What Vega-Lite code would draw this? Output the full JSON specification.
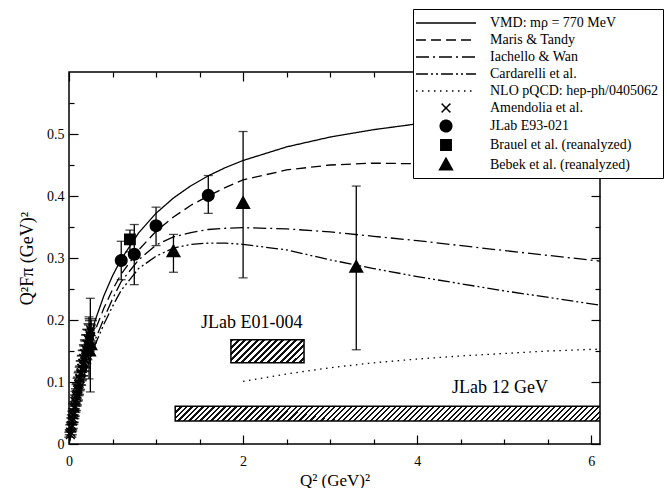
{
  "$schema": "https://vega.github.io/schema/vega-lite/v6.json",
  "width": 531,
  "height": 372,
  "autosize": {"type": "none"},
  "padding": {"left": 69, "top": 72, "right": 67, "bottom": 44},
  "background": "white",
  "config": {
    "view": {"stroke": "black", "strokeWidth": 1.5},
    "font": "Liberation Serif",
    "axis": {"domain": false, "grid": false, "labelFont": "Liberation Serif", "labelFontSize": 14, "labelColor": "black", "tickColor": "black", "tickWidth": 1.2, "titleFont": "Liberation Serif", "titleFontSize": 17, "titleFontWeight": "normal", "titleColor": "black", "labelOverlap": false, "labelFlush": false}
  },
  "resolve": {"axis": {"x": "independent", "y": "independent"}},
  "datasets": {
    "bars": [
      {"name": "JLab E01-004", "x0": 1.86, "x1": 2.70, "y0": 0.131, "y1": 0.168},
      {"name": "JLab 12 GeV", "x0": 1.22, "x1": 6.1, "y0": 0.037, "y1": 0.061}
    ],
    "labels": [
      {"t": "JLab E01-004", "q": 2.10, "f": 0.195},
      {"t": "JLab 12 GeV", "q": 4.95, "f": 0.090}
    ],
    "curves": [
      {"s": "VMD: mρ = 770 MeV", "q": 0, "f": 0},
      {"s": "VMD: mρ = 770 MeV", "q": 0.02, "f": 0.0193},
      {"s": "VMD: mρ = 770 MeV", "q": 0.05, "f": 0.0461},
      {"s": "VMD: mρ = 770 MeV", "q": 0.1, "f": 0.0856},
      {"s": "VMD: mρ = 770 MeV", "q": 0.15, "f": 0.1198},
      {"s": "VMD: mρ = 770 MeV", "q": 0.2, "f": 0.1496},
      {"s": "VMD: mρ = 770 MeV", "q": 0.3, "f": 0.1992},
      {"s": "VMD: mρ = 770 MeV", "q": 0.4, "f": 0.2389},
      {"s": "VMD: mρ = 770 MeV", "q": 0.5, "f": 0.2713},
      {"s": "VMD: mρ = 770 MeV", "q": 0.6, "f": 0.2982},
      {"s": "VMD: mρ = 770 MeV", "q": 0.8, "f": 0.3405},
      {"s": "VMD: mρ = 770 MeV", "q": 1.0, "f": 0.3722},
      {"s": "VMD: mρ = 770 MeV", "q": 1.2, "f": 0.3968},
      {"s": "VMD: mρ = 770 MeV", "q": 1.4, "f": 0.4165},
      {"s": "VMD: mρ = 770 MeV", "q": 1.6, "f": 0.4326},
      {"s": "VMD: mρ = 770 MeV", "q": 1.8, "f": 0.4460},
      {"s": "VMD: mρ = 770 MeV", "q": 2.0, "f": 0.4573},
      {"s": "VMD: mρ = 770 MeV", "q": 2.5, "f": 0.4792},
      {"s": "VMD: mρ = 770 MeV", "q": 3.0, "f": 0.4951},
      {"s": "VMD: mρ = 770 MeV", "q": 3.5, "f": 0.5070},
      {"s": "VMD: mρ = 770 MeV", "q": 4.0, "f": 0.5164},
      {"s": "VMD: mρ = 770 MeV", "q": 5.0, "f": 0.5300},
      {"s": "VMD: mρ = 770 MeV", "q": 6.1, "f": 0.5404},
      {"s": "Maris & Tandy", "q": 0, "f": 0},
      {"s": "Maris & Tandy", "q": 0.05, "f": 0.043},
      {"s": "Maris & Tandy", "q": 0.1, "f": 0.080},
      {"s": "Maris & Tandy", "q": 0.2, "f": 0.138},
      {"s": "Maris & Tandy", "q": 0.3, "f": 0.183},
      {"s": "Maris & Tandy", "q": 0.4, "f": 0.219},
      {"s": "Maris & Tandy", "q": 0.5, "f": 0.249},
      {"s": "Maris & Tandy", "q": 0.6, "f": 0.274},
      {"s": "Maris & Tandy", "q": 0.8, "f": 0.313},
      {"s": "Maris & Tandy", "q": 1.0, "f": 0.343},
      {"s": "Maris & Tandy", "q": 1.2, "f": 0.366},
      {"s": "Maris & Tandy", "q": 1.4, "f": 0.385},
      {"s": "Maris & Tandy", "q": 1.6, "f": 0.400},
      {"s": "Maris & Tandy", "q": 1.8, "f": 0.414},
      {"s": "Maris & Tandy", "q": 2.0, "f": 0.426},
      {"s": "Maris & Tandy", "q": 2.5, "f": 0.442},
      {"s": "Maris & Tandy", "q": 3.0, "f": 0.450},
      {"s": "Maris & Tandy", "q": 3.5, "f": 0.453},
      {"s": "Maris & Tandy", "q": 4.0, "f": 0.452},
      {"s": "Maris & Tandy", "q": 5.0, "f": 0.447},
      {"s": "Maris & Tandy", "q": 6.1, "f": 0.439},
      {"s": "Iachello & Wan", "q": 0, "f": 0},
      {"s": "Iachello & Wan", "q": 0.05, "f": 0.040},
      {"s": "Iachello & Wan", "q": 0.1, "f": 0.074},
      {"s": "Iachello & Wan", "q": 0.2, "f": 0.127},
      {"s": "Iachello & Wan", "q": 0.3, "f": 0.168},
      {"s": "Iachello & Wan", "q": 0.4, "f": 0.202},
      {"s": "Iachello & Wan", "q": 0.5, "f": 0.234},
      {"s": "Iachello & Wan", "q": 0.6, "f": 0.262},
      {"s": "Iachello & Wan", "q": 0.8, "f": 0.297},
      {"s": "Iachello & Wan", "q": 1.0, "f": 0.321},
      {"s": "Iachello & Wan", "q": 1.2, "f": 0.334},
      {"s": "Iachello & Wan", "q": 1.4, "f": 0.341},
      {"s": "Iachello & Wan", "q": 1.6, "f": 0.346},
      {"s": "Iachello & Wan", "q": 1.8, "f": 0.348},
      {"s": "Iachello & Wan", "q": 2.0, "f": 0.349},
      {"s": "Iachello & Wan", "q": 2.5, "f": 0.347},
      {"s": "Iachello & Wan", "q": 3.0, "f": 0.342},
      {"s": "Iachello & Wan", "q": 3.5, "f": 0.335},
      {"s": "Iachello & Wan", "q": 4.0, "f": 0.328},
      {"s": "Iachello & Wan", "q": 5.0, "f": 0.312},
      {"s": "Iachello & Wan", "q": 6.1, "f": 0.295},
      {"s": "Cardarelli et al.", "q": 0, "f": 0},
      {"s": "Cardarelli et al.", "q": 0.05, "f": 0.038},
      {"s": "Cardarelli et al.", "q": 0.1, "f": 0.070},
      {"s": "Cardarelli et al.", "q": 0.2, "f": 0.120},
      {"s": "Cardarelli et al.", "q": 0.3, "f": 0.160},
      {"s": "Cardarelli et al.", "q": 0.4, "f": 0.193},
      {"s": "Cardarelli et al.", "q": 0.5, "f": 0.222},
      {"s": "Cardarelli et al.", "q": 0.6, "f": 0.248},
      {"s": "Cardarelli et al.", "q": 0.8, "f": 0.283},
      {"s": "Cardarelli et al.", "q": 1.0, "f": 0.303},
      {"s": "Cardarelli et al.", "q": 1.2, "f": 0.316},
      {"s": "Cardarelli et al.", "q": 1.4, "f": 0.322},
      {"s": "Cardarelli et al.", "q": 1.6, "f": 0.324},
      {"s": "Cardarelli et al.", "q": 1.8, "f": 0.324},
      {"s": "Cardarelli et al.", "q": 2.0, "f": 0.322},
      {"s": "Cardarelli et al.", "q": 2.5, "f": 0.313},
      {"s": "Cardarelli et al.", "q": 3.0, "f": 0.297},
      {"s": "Cardarelli et al.", "q": 3.5, "f": 0.283},
      {"s": "Cardarelli et al.", "q": 4.0, "f": 0.270},
      {"s": "Cardarelli et al.", "q": 5.0, "f": 0.247},
      {"s": "Cardarelli et al.", "q": 6.1, "f": 0.224},
      {"s": "NLO pQCD: hep-ph/0405062", "q": 2.0, "f": 0.101},
      {"s": "NLO pQCD: hep-ph/0405062", "q": 2.5, "f": 0.113},
      {"s": "NLO pQCD: hep-ph/0405062", "q": 3.0, "f": 0.123},
      {"s": "NLO pQCD: hep-ph/0405062", "q": 3.5, "f": 0.131},
      {"s": "NLO pQCD: hep-ph/0405062", "q": 4.0, "f": 0.137},
      {"s": "NLO pQCD: hep-ph/0405062", "q": 4.5, "f": 0.142},
      {"s": "NLO pQCD: hep-ph/0405062", "q": 5.0, "f": 0.146},
      {"s": "NLO pQCD: hep-ph/0405062", "q": 5.5, "f": 0.150},
      {"s": "NLO pQCD: hep-ph/0405062", "q": 6.1, "f": 0.153}
    ],
    "points": [
      {"s": "Amendolia et al.", "q": 0.015, "f": 0.015, "lo": 0.011, "hi": 0.019},
      {"s": "Amendolia et al.", "q": 0.020, "f": 0.019, "lo": 0.015, "hi": 0.023},
      {"s": "Amendolia et al.", "q": 0.026, "f": 0.026, "lo": 0.021, "hi": 0.031},
      {"s": "Amendolia et al.", "q": 0.032, "f": 0.030, "lo": 0.025, "hi": 0.035},
      {"s": "Amendolia et al.", "q": 0.038, "f": 0.037, "lo": 0.032, "hi": 0.042},
      {"s": "Amendolia et al.", "q": 0.044, "f": 0.041, "lo": 0.035, "hi": 0.047},
      {"s": "Amendolia et al.", "q": 0.050, "f": 0.047, "lo": 0.041, "hi": 0.053},
      {"s": "Amendolia et al.", "q": 0.056, "f": 0.051, "lo": 0.045, "hi": 0.057},
      {"s": "Amendolia et al.", "q": 0.062, "f": 0.058, "lo": 0.051, "hi": 0.065},
      {"s": "Amendolia et al.", "q": 0.068, "f": 0.061, "lo": 0.054, "hi": 0.068},
      {"s": "Amendolia et al.", "q": 0.074, "f": 0.068, "lo": 0.061, "hi": 0.075},
      {"s": "Amendolia et al.", "q": 0.080, "f": 0.071, "lo": 0.063, "hi": 0.079},
      {"s": "Amendolia et al.", "q": 0.086, "f": 0.077, "lo": 0.069, "hi": 0.085},
      {"s": "Amendolia et al.", "q": 0.092, "f": 0.080, "lo": 0.071, "hi": 0.089},
      {"s": "Amendolia et al.", "q": 0.098, "f": 0.087, "lo": 0.078, "hi": 0.096},
      {"s": "Amendolia et al.", "q": 0.104, "f": 0.089, "lo": 0.080, "hi": 0.098},
      {"s": "Amendolia et al.", "q": 0.110, "f": 0.096, "lo": 0.086, "hi": 0.106},
      {"s": "Amendolia et al.", "q": 0.116, "f": 0.098, "lo": 0.088, "hi": 0.108},
      {"s": "Amendolia et al.", "q": 0.122, "f": 0.105, "lo": 0.095, "hi": 0.115},
      {"s": "Amendolia et al.", "q": 0.128, "f": 0.106, "lo": 0.095, "hi": 0.117},
      {"s": "Amendolia et al.", "q": 0.134, "f": 0.113, "lo": 0.102, "hi": 0.124},
      {"s": "Amendolia et al.", "q": 0.140, "f": 0.115, "lo": 0.104, "hi": 0.126},
      {"s": "Amendolia et al.", "q": 0.146, "f": 0.122, "lo": 0.110, "hi": 0.134},
      {"s": "Amendolia et al.", "q": 0.152, "f": 0.122, "lo": 0.110, "hi": 0.134},
      {"s": "Amendolia et al.", "q": 0.158, "f": 0.130, "lo": 0.118, "hi": 0.142},
      {"s": "Amendolia et al.", "q": 0.164, "f": 0.130, "lo": 0.117, "hi": 0.143},
      {"s": "Amendolia et al.", "q": 0.170, "f": 0.138, "lo": 0.125, "hi": 0.151},
      {"s": "Amendolia et al.", "q": 0.176, "f": 0.137, "lo": 0.123, "hi": 0.151},
      {"s": "Amendolia et al.", "q": 0.182, "f": 0.146, "lo": 0.132, "hi": 0.160},
      {"s": "Amendolia et al.", "q": 0.188, "f": 0.144, "lo": 0.130, "hi": 0.158},
      {"s": "Amendolia et al.", "q": 0.194, "f": 0.153, "lo": 0.138, "hi": 0.168},
      {"s": "Amendolia et al.", "q": 0.200, "f": 0.151, "lo": 0.136, "hi": 0.166},
      {"s": "Amendolia et al.", "q": 0.207, "f": 0.161, "lo": 0.146, "hi": 0.176},
      {"s": "Amendolia et al.", "q": 0.214, "f": 0.160, "lo": 0.144, "hi": 0.176},
      {"s": "Amendolia et al.", "q": 0.221, "f": 0.169, "lo": 0.153, "hi": 0.185},
      {"s": "Amendolia et al.", "q": 0.228, "f": 0.167, "lo": 0.150, "hi": 0.184},
      {"s": "Amendolia et al.", "q": 0.235, "f": 0.177, "lo": 0.160, "hi": 0.194},
      {"s": "Amendolia et al.", "q": 0.242, "f": 0.174, "lo": 0.156, "hi": 0.192},
      {"s": "Amendolia et al.", "q": 0.249, "f": 0.184, "lo": 0.166, "hi": 0.202},
      {"s": "Amendolia et al.", "q": 0.253, "f": 0.181, "lo": 0.163, "hi": 0.199},
      {"s": "JLab E93-021", "q": 0.60, "f": 0.296, "lo": 0.265, "hi": 0.327},
      {"s": "JLab E93-021", "q": 0.75, "f": 0.306, "lo": 0.257, "hi": 0.354},
      {"s": "JLab E93-021", "q": 1.00, "f": 0.352, "lo": 0.320, "hi": 0.382},
      {"s": "JLab E93-021", "q": 1.60, "f": 0.401, "lo": 0.372, "hi": 0.433},
      {"s": "Brauel et al. (reanalyzed)", "q": 0.70, "f": 0.330, "lo": 0.310, "hi": 0.345},
      {"s": "Bebek et al. (reanalyzed)", "q": 0.230, "f": 0.150, "lo": 0.105, "hi": 0.205},
      {"s": "Bebek et al. (reanalyzed)", "q": 0.245, "f": 0.160, "lo": 0.084, "hi": 0.235},
      {"s": "Bebek et al. (reanalyzed)", "q": 1.20, "f": 0.310, "lo": 0.277, "hi": 0.338},
      {"s": "Bebek et al. (reanalyzed)", "q": 2.00, "f": 0.388, "lo": 0.268, "hi": 0.504},
      {"s": "Bebek et al. (reanalyzed)", "q": 3.30, "f": 0.285, "lo": 0.152, "hi": 0.416}
    ]
  },
  "layer": [
    {
      "data": {"name": "bars"},
      "transform": [{"filter": "datum.name === 'JLab E01-004'"}],
      "mark": {"type": "rect", "stroke": "black", "strokeWidth": 1.5, "clip": true,
        "fill": {"gradient": "linear", "x1": 0, "y1": 0, "x2": 1.196, "y2": 0.376, "stops": [
          {"offset": 0, "color": "#111"}, {"offset": 0.03, "color": "#111"}, {"offset": 0.03, "color": "#fff"}, {"offset": 0.0667, "color": "#fff"},
          {"offset": 0.0667, "color": "#111"}, {"offset": 0.0967, "color": "#111"}, {"offset": 0.0967, "color": "#fff"}, {"offset": 0.1333, "color": "#fff"},
          {"offset": 0.1333, "color": "#111"}, {"offset": 0.1633, "color": "#111"}, {"offset": 0.1633, "color": "#fff"}, {"offset": 0.2, "color": "#fff"},
          {"offset": 0.2, "color": "#111"}, {"offset": 0.23, "color": "#111"}, {"offset": 0.23, "color": "#fff"}, {"offset": 0.2667, "color": "#fff"},
          {"offset": 0.2667, "color": "#111"}, {"offset": 0.2967, "color": "#111"}, {"offset": 0.2967, "color": "#fff"}, {"offset": 0.3333, "color": "#fff"},
          {"offset": 0.3333, "color": "#111"}, {"offset": 0.3633, "color": "#111"}, {"offset": 0.3633, "color": "#fff"}, {"offset": 0.4, "color": "#fff"},
          {"offset": 0.4, "color": "#111"}, {"offset": 0.43, "color": "#111"}, {"offset": 0.43, "color": "#fff"}, {"offset": 0.4667, "color": "#fff"},
          {"offset": 0.4667, "color": "#111"}, {"offset": 0.4967, "color": "#111"}, {"offset": 0.4967, "color": "#fff"}, {"offset": 0.5333, "color": "#fff"},
          {"offset": 0.5333, "color": "#111"}, {"offset": 0.5633, "color": "#111"}, {"offset": 0.5633, "color": "#fff"}, {"offset": 0.6, "color": "#fff"},
          {"offset": 0.6, "color": "#111"}, {"offset": 0.63, "color": "#111"}, {"offset": 0.63, "color": "#fff"}, {"offset": 0.6667, "color": "#fff"},
          {"offset": 0.6667, "color": "#111"}, {"offset": 0.6967, "color": "#111"}, {"offset": 0.6967, "color": "#fff"}, {"offset": 0.7333, "color": "#fff"},
          {"offset": 0.7333, "color": "#111"}, {"offset": 0.7633, "color": "#111"}, {"offset": 0.7633, "color": "#fff"}, {"offset": 0.8, "color": "#fff"},
          {"offset": 0.8, "color": "#111"}, {"offset": 0.83, "color": "#111"}, {"offset": 0.83, "color": "#fff"}, {"offset": 0.8667, "color": "#fff"},
          {"offset": 0.8667, "color": "#111"}, {"offset": 0.8967, "color": "#111"}, {"offset": 0.8967, "color": "#fff"}, {"offset": 0.9333, "color": "#fff"},
          {"offset": 0.9333, "color": "#111"}, {"offset": 0.9633, "color": "#111"}, {"offset": 0.9633, "color": "#fff"}, {"offset": 1, "color": "#fff"}
        ]}},
      "encoding": {
        "x": {"field": "x0", "type": "quantitative", "scale": {"domain": [0, 6.1], "nice": false, "zero": false},
          "axis": {"orient": "bottom", "values": [0, 2, 4, 6], "labelExpr": "format(datum.value, 'd')",
            "tickSize": -9, "labelPadding": 19, "title": "Q² (GeV)²", "titlePadding": 4}},
        "x2": {"field": "x1"},
        "y": {"field": "y0", "type": "quantitative", "scale": {"domain": [0, 0.6], "nice": false, "zero": false},
          "axis": {"orient": "left", "values": [0, 0.1, 0.2, 0.3, 0.4, 0.5],
            "labelExpr": "datum.value === 0 ? '0' : format(datum.value, '.1f')",
            "tickSize": -9, "labelPadding": 14, "title": "Q²Fπ (GeV)²", "titleFontSize": 18, "titlePadding": 10}},
        "y2": {"field": "y1"}
      }
    },
    {
      "data": {"name": "bars"},
      "transform": [{"filter": "datum.name === 'JLab 12 GeV'"}],
      "mark": {"type": "rect", "stroke": "black", "strokeWidth": 1.5, "clip": true,
        "fill": {"gradient": "linear", "x1": 0, "y1": 0, "x2": 1.0336, "y2": 0.036, "stops": [
          {"offset": 0, "color": "#111"}, {"offset": 0.005, "color": "#111"}, {"offset": 0.005, "color": "#fff"}, {"offset": 0.0125, "color": "#fff"},
          {"offset": 0.0125, "color": "#111"}, {"offset": 0.0175, "color": "#111"}, {"offset": 0.0175, "color": "#fff"}, {"offset": 0.025, "color": "#fff"},
          {"offset": 0.025, "color": "#111"}, {"offset": 0.03, "color": "#111"}, {"offset": 0.03, "color": "#fff"}, {"offset": 0.0375, "color": "#fff"},
          {"offset": 0.0375, "color": "#111"}, {"offset": 0.0425, "color": "#111"}, {"offset": 0.0425, "color": "#fff"}, {"offset": 0.05, "color": "#fff"},
          {"offset": 0.05, "color": "#111"}, {"offset": 0.055, "color": "#111"}, {"offset": 0.055, "color": "#fff"}, {"offset": 0.0625, "color": "#fff"},
          {"offset": 0.0625, "color": "#111"}, {"offset": 0.0675, "color": "#111"}, {"offset": 0.0675, "color": "#fff"}, {"offset": 0.075, "color": "#fff"},
          {"offset": 0.075, "color": "#111"}, {"offset": 0.08, "color": "#111"}, {"offset": 0.08, "color": "#fff"}, {"offset": 0.0875, "color": "#fff"},
          {"offset": 0.0875, "color": "#111"}, {"offset": 0.0925, "color": "#111"}, {"offset": 0.0925, "color": "#fff"}, {"offset": 0.1, "color": "#fff"},
          {"offset": 0.1, "color": "#111"}, {"offset": 0.105, "color": "#111"}, {"offset": 0.105, "color": "#fff"}, {"offset": 0.1125, "color": "#fff"},
          {"offset": 0.1125, "color": "#111"}, {"offset": 0.1175, "color": "#111"}, {"offset": 0.1175, "color": "#fff"}, {"offset": 0.125, "color": "#fff"},
          {"offset": 0.125, "color": "#111"}, {"offset": 0.13, "color": "#111"}, {"offset": 0.13, "color": "#fff"}, {"offset": 0.1375, "color": "#fff"},
          {"offset": 0.1375, "color": "#111"}, {"offset": 0.1425, "color": "#111"}, {"offset": 0.1425, "color": "#fff"}, {"offset": 0.15, "color": "#fff"},
          {"offset": 0.15, "color": "#111"}, {"offset": 0.155, "color": "#111"}, {"offset": 0.155, "color": "#fff"}, {"offset": 0.1625, "color": "#fff"},
          {"offset": 0.1625, "color": "#111"}, {"offset": 0.1675, "color": "#111"}, {"offset": 0.1675, "color": "#fff"}, {"offset": 0.175, "color": "#fff"},
          {"offset": 0.175, "color": "#111"}, {"offset": 0.18, "color": "#111"}, {"offset": 0.18, "color": "#fff"}, {"offset": 0.1875, "color": "#fff"},
          {"offset": 0.1875, "color": "#111"}, {"offset": 0.1925, "color": "#111"}, {"offset": 0.1925, "color": "#fff"}, {"offset": 0.2, "color": "#fff"},
          {"offset": 0.2, "color": "#111"}, {"offset": 0.205, "color": "#111"}, {"offset": 0.205, "color": "#fff"}, {"offset": 0.2125, "color": "#fff"},
          {"offset": 0.2125, "color": "#111"}, {"offset": 0.2175, "color": "#111"}, {"offset": 0.2175, "color": "#fff"}, {"offset": 0.225, "color": "#fff"},
          {"offset": 0.225, "color": "#111"}, {"offset": 0.23, "color": "#111"}, {"offset": 0.23, "color": "#fff"}, {"offset": 0.2375, "color": "#fff"},
          {"offset": 0.2375, "color": "#111"}, {"offset": 0.2425, "color": "#111"}, {"offset": 0.2425, "color": "#fff"}, {"offset": 0.25, "color": "#fff"},
          {"offset": 0.25, "color": "#111"}, {"offset": 0.255, "color": "#111"}, {"offset": 0.255, "color": "#fff"}, {"offset": 0.2625, "color": "#fff"},
          {"offset": 0.2625, "color": "#111"}, {"offset": 0.2675, "color": "#111"}, {"offset": 0.2675, "color": "#fff"}, {"offset": 0.275, "color": "#fff"},
          {"offset": 0.275, "color": "#111"}, {"offset": 0.28, "color": "#111"}, {"offset": 0.28, "color": "#fff"}, {"offset": 0.2875, "color": "#fff"},
          {"offset": 0.2875, "color": "#111"}, {"offset": 0.2925, "color": "#111"}, {"offset": 0.2925, "color": "#fff"}, {"offset": 0.3, "color": "#fff"},
          {"offset": 0.3, "color": "#111"}, {"offset": 0.305, "color": "#111"}, {"offset": 0.305, "color": "#fff"}, {"offset": 0.3125, "color": "#fff"},
          {"offset": 0.3125, "color": "#111"}, {"offset": 0.3175, "color": "#111"}, {"offset": 0.3175, "color": "#fff"}, {"offset": 0.325, "color": "#fff"},
          {"offset": 0.325, "color": "#111"}, {"offset": 0.33, "color": "#111"}, {"offset": 0.33, "color": "#fff"}, {"offset": 0.3375, "color": "#fff"},
          {"offset": 0.3375, "color": "#111"}, {"offset": 0.3425, "color": "#111"}, {"offset": 0.3425, "color": "#fff"}, {"offset": 0.35, "color": "#fff"},
          {"offset": 0.35, "color": "#111"}, {"offset": 0.355, "color": "#111"}, {"offset": 0.355, "color": "#fff"}, {"offset": 0.3625, "color": "#fff"},
          {"offset": 0.3625, "color": "#111"}, {"offset": 0.3675, "color": "#111"}, {"offset": 0.3675, "color": "#fff"}, {"offset": 0.375, "color": "#fff"},
          {"offset": 0.375, "color": "#111"}, {"offset": 0.38, "color": "#111"}, {"offset": 0.38, "color": "#fff"}, {"offset": 0.3875, "color": "#fff"},
          {"offset": 0.3875, "color": "#111"}, {"offset": 0.3925, "color": "#111"}, {"offset": 0.3925, "color": "#fff"}, {"offset": 0.4, "color": "#fff"},
          {"offset": 0.4, "color": "#111"}, {"offset": 0.405, "color": "#111"}, {"offset": 0.405, "color": "#fff"}, {"offset": 0.4125, "color": "#fff"},
          {"offset": 0.4125, "color": "#111"}, {"offset": 0.4175, "color": "#111"}, {"offset": 0.4175, "color": "#fff"}, {"offset": 0.425, "color": "#fff"},
          {"offset": 0.425, "color": "#111"}, {"offset": 0.43, "color": "#111"}, {"offset": 0.43, "color": "#fff"}, {"offset": 0.4375, "color": "#fff"},
          {"offset": 0.4375, "color": "#111"}, {"offset": 0.4425, "color": "#111"}, {"offset": 0.4425, "color": "#fff"}, {"offset": 0.45, "color": "#fff"},
          {"offset": 0.45, "color": "#111"}, {"offset": 0.455, "color": "#111"}, {"offset": 0.455, "color": "#fff"}, {"offset": 0.4625, "color": "#fff"},
          {"offset": 0.4625, "color": "#111"}, {"offset": 0.4675, "color": "#111"}, {"offset": 0.4675, "color": "#fff"}, {"offset": 0.475, "color": "#fff"},
          {"offset": 0.475, "color": "#111"}, {"offset": 0.48, "color": "#111"}, {"offset": 0.48, "color": "#fff"}, {"offset": 0.4875, "color": "#fff"},
          {"offset": 0.4875, "color": "#111"}, {"offset": 0.4925, "color": "#111"}, {"offset": 0.4925, "color": "#fff"}, {"offset": 0.5, "color": "#fff"},
          {"offset": 0.5, "color": "#111"}, {"offset": 0.505, "color": "#111"}, {"offset": 0.505, "color": "#fff"}, {"offset": 0.5125, "color": "#fff"},
          {"offset": 0.5125, "color": "#111"}, {"offset": 0.5175, "color": "#111"}, {"offset": 0.5175, "color": "#fff"}, {"offset": 0.525, "color": "#fff"},
          {"offset": 0.525, "color": "#111"}, {"offset": 0.53, "color": "#111"}, {"offset": 0.53, "color": "#fff"}, {"offset": 0.5375, "color": "#fff"},
          {"offset": 0.5375, "color": "#111"}, {"offset": 0.5425, "color": "#111"}, {"offset": 0.5425, "color": "#fff"}, {"offset": 0.55, "color": "#fff"},
          {"offset": 0.55, "color": "#111"}, {"offset": 0.555, "color": "#111"}, {"offset": 0.555, "color": "#fff"}, {"offset": 0.5625, "color": "#fff"},
          {"offset": 0.5625, "color": "#111"}, {"offset": 0.5675, "color": "#111"}, {"offset": 0.5675, "color": "#fff"}, {"offset": 0.575, "color": "#fff"},
          {"offset": 0.575, "color": "#111"}, {"offset": 0.58, "color": "#111"}, {"offset": 0.58, "color": "#fff"}, {"offset": 0.5875, "color": "#fff"},
          {"offset": 0.5875, "color": "#111"}, {"offset": 0.5925, "color": "#111"}, {"offset": 0.5925, "color": "#fff"}, {"offset": 0.6, "color": "#fff"},
          {"offset": 0.6, "color": "#111"}, {"offset": 0.605, "color": "#111"}, {"offset": 0.605, "color": "#fff"}, {"offset": 0.6125, "color": "#fff"},
          {"offset": 0.6125, "color": "#111"}, {"offset": 0.6175, "color": "#111"}, {"offset": 0.6175, "color": "#fff"}, {"offset": 0.625, "color": "#fff"},
          {"offset": 0.625, "color": "#111"}, {"offset": 0.63, "color": "#111"}, {"offset": 0.63, "color": "#fff"}, {"offset": 0.6375, "color": "#fff"},
          {"offset": 0.6375, "color": "#111"}, {"offset": 0.6425, "color": "#111"}, {"offset": 0.6425, "color": "#fff"}, {"offset": 0.65, "color": "#fff"},
          {"offset": 0.65, "color": "#111"}, {"offset": 0.655, "color": "#111"}, {"offset": 0.655, "color": "#fff"}, {"offset": 0.6625, "color": "#fff"},
          {"offset": 0.6625, "color": "#111"}, {"offset": 0.6675, "color": "#111"}, {"offset": 0.6675, "color": "#fff"}, {"offset": 0.675, "color": "#fff"},
          {"offset": 0.675, "color": "#111"}, {"offset": 0.68, "color": "#111"}, {"offset": 0.68, "color": "#fff"}, {"offset": 0.6875, "color": "#fff"},
          {"offset": 0.6875, "color": "#111"}, {"offset": 0.6925, "color": "#111"}, {"offset": 0.6925, "color": "#fff"}, {"offset": 0.7, "color": "#fff"},
          {"offset": 0.7, "color": "#111"}, {"offset": 0.705, "color": "#111"}, {"offset": 0.705, "color": "#fff"}, {"offset": 0.7125, "color": "#fff"},
          {"offset": 0.7125, "color": "#111"}, {"offset": 0.7175, "color": "#111"}, {"offset": 0.7175, "color": "#fff"}, {"offset": 0.725, "color": "#fff"},
          {"offset": 0.725, "color": "#111"}, {"offset": 0.73, "color": "#111"}, {"offset": 0.73, "color": "#fff"}, {"offset": 0.7375, "color": "#fff"},
          {"offset": 0.7375, "color": "#111"}, {"offset": 0.7425, "color": "#111"}, {"offset": 0.7425, "color": "#fff"}, {"offset": 0.75, "color": "#fff"},
          {"offset": 0.75, "color": "#111"}, {"offset": 0.755, "color": "#111"}, {"offset": 0.755, "color": "#fff"}, {"offset": 0.7625, "color": "#fff"},
          {"offset": 0.7625, "color": "#111"}, {"offset": 0.7675, "color": "#111"}, {"offset": 0.7675, "color": "#fff"}, {"offset": 0.775, "color": "#fff"},
          {"offset": 0.775, "color": "#111"}, {"offset": 0.78, "color": "#111"}, {"offset": 0.78, "color": "#fff"}, {"offset": 0.7875, "color": "#fff"},
          {"offset": 0.7875, "color": "#111"}, {"offset": 0.7925, "color": "#111"}, {"offset": 0.7925, "color": "#fff"}, {"offset": 0.8, "color": "#fff"},
          {"offset": 0.8, "color": "#111"}, {"offset": 0.805, "color": "#111"}, {"offset": 0.805, "color": "#fff"}, {"offset": 0.8125, "color": "#fff"},
          {"offset": 0.8125, "color": "#111"}, {"offset": 0.8175, "color": "#111"}, {"offset": 0.8175, "color": "#fff"}, {"offset": 0.825, "color": "#fff"},
          {"offset": 0.825, "color": "#111"}, {"offset": 0.83, "color": "#111"}, {"offset": 0.83, "color": "#fff"}, {"offset": 0.8375, "color": "#fff"},
          {"offset": 0.8375, "color": "#111"}, {"offset": 0.8425, "color": "#111"}, {"offset": 0.8425, "color": "#fff"}, {"offset": 0.85, "color": "#fff"},
          {"offset": 0.85, "color": "#111"}, {"offset": 0.855, "color": "#111"}, {"offset": 0.855, "color": "#fff"}, {"offset": 0.8625, "color": "#fff"},
          {"offset": 0.8625, "color": "#111"}, {"offset": 0.8675, "color": "#111"}, {"offset": 0.8675, "color": "#fff"}, {"offset": 0.875, "color": "#fff"},
          {"offset": 0.875, "color": "#111"}, {"offset": 0.88, "color": "#111"}, {"offset": 0.88, "color": "#fff"}, {"offset": 0.8875, "color": "#fff"},
          {"offset": 0.8875, "color": "#111"}, {"offset": 0.8925, "color": "#111"}, {"offset": 0.8925, "color": "#fff"}, {"offset": 0.9, "color": "#fff"},
          {"offset": 0.9, "color": "#111"}, {"offset": 0.905, "color": "#111"}, {"offset": 0.905, "color": "#fff"}, {"offset": 0.9125, "color": "#fff"},
          {"offset": 0.9125, "color": "#111"}, {"offset": 0.9175, "color": "#111"}, {"offset": 0.9175, "color": "#fff"}, {"offset": 0.925, "color": "#fff"},
          {"offset": 0.925, "color": "#111"}, {"offset": 0.93, "color": "#111"}, {"offset": 0.93, "color": "#fff"}, {"offset": 0.9375, "color": "#fff"},
          {"offset": 0.9375, "color": "#111"}, {"offset": 0.9425, "color": "#111"}, {"offset": 0.9425, "color": "#fff"}, {"offset": 0.95, "color": "#fff"},
          {"offset": 0.95, "color": "#111"}, {"offset": 0.955, "color": "#111"}, {"offset": 0.955, "color": "#fff"}, {"offset": 0.9625, "color": "#fff"},
          {"offset": 0.9625, "color": "#111"}, {"offset": 0.9675, "color": "#111"}, {"offset": 0.9675, "color": "#fff"}, {"offset": 0.975, "color": "#fff"},
          {"offset": 0.975, "color": "#111"}, {"offset": 0.98, "color": "#111"}, {"offset": 0.98, "color": "#fff"}, {"offset": 0.9875, "color": "#fff"},
          {"offset": 0.9875, "color": "#111"}, {"offset": 0.9925, "color": "#111"}, {"offset": 0.9925, "color": "#fff"}, {"offset": 1, "color": "#fff"}
        ]}},
      "encoding": {
        "x": {"field": "x0", "type": "quantitative",
          "axis": {"orient": "bottom", "values": [0.5, 1, 1.5, 2.5, 3, 3.5, 4.5, 5, 5.5], "labels": false, "title": null, "tickSize": -5}},
        "x2": {"field": "x1"},
        "y": {"field": "y0", "type": "quantitative",
          "axis": {"orient": "left", "values": [0.05, 0.15, 0.25, 0.35, 0.45, 0.55], "labels": false, "title": null, "tickSize": -5}},
        "y2": {"field": "y1"}
      }
    },
    {
      "data": {"name": "curves"},
      "mark": {"type": "line", "color": "black", "strokeWidth": 1.3, "clip": true},
      "encoding": {
        "x": {"field": "q", "type": "quantitative",
          "axis": {"orient": "top", "values": [0, 2, 4, 6], "labels": false, "title": null, "tickSize": -9}},
        "y": {"field": "f", "type": "quantitative",
          "axis": {"orient": "right", "values": [0, 0.1, 0.2, 0.3, 0.4, 0.5], "labels": false, "title": null, "tickSize": -9}},
        "strokeDash": {"field": "s", "type": "nominal",
          "scale": {"domain": ["VMD: mρ = 770 MeV", "Maris & Tandy", "Iachello & Wan", "Cardarelli et al.", "NLO pQCD: hep-ph/0405062", "Amendolia et al.", "JLab E93-021", "Brauel et al. (reanalyzed)", "Bebek et al. (reanalyzed)"],
            "range": [[1, 0], [10, 5], [13, 4, 2, 4], [12, 3, 2, 3, 2, 3], [1.5, 4.5], [1, 0], [1, 0], [1, 0], [1, 0]]},
          "legend": {"title": null, "orient": "none", "legendX": 344, "legendY": -63, "padding": 5, "fillColor": "white", "strokeColor": "black",
            "labelFont": "Liberation Serif", "labelFontSize": 14, "labelColor": "black", "labelLimit": 400, "symbolOffset": 19, "labelOffset": 35, "rowPadding": 1, "symbolSize": 256,
            "encode": {"legend": {"update": {"strokeWidth": {"value": 1.2}}},
              "symbols": {"update": {"shape": {"scale": "shape", "field": "value"}, "fill": {"scale": "fill", "field": "value"}, "strokeDash": {"scale": "strokeDash", "field": "value"}, "stroke": {"value": "black"}, "strokeWidth": {"value": 1.3}, "size": {"value": 256}, "opacity": {"value": 1}}}}}}
      }
    },
    {
      "data": {"name": "points"},
      "transform": [{"filter": "datum.s !== 'Amendolia et al.'"}],
      "mark": {"type": "errorbar", "ticks": true, "size": 9, "thickness": 1.3, "color": "black"},
      "encoding": {
        "x": {"field": "q", "type": "quantitative", "axis": null},
        "y": {"field": "lo", "type": "quantitative", "axis": null},
        "y2": {"field": "hi"}
      }
    },
    {
      "data": {"name": "points"},
      "transform": [{"filter": "datum.s === 'Amendolia et al.'"}],
      "mark": {"type": "errorbar", "ticks": true, "size": 12, "thickness": 1.5, "color": "black"},
      "encoding": {
        "x": {"field": "q", "type": "quantitative", "axis": null},
        "y": {"field": "lo", "type": "quantitative", "axis": null},
        "y2": {"field": "hi"}
      }
    },
    {
      "data": {"name": "points"},
      "mark": {"type": "point", "filled": true, "stroke": "black", "strokeWidth": 1.4, "size": 256, "opacity": 1},
      "encoding": {
        "x": {"field": "q", "type": "quantitative", "axis": null},
        "y": {"field": "f", "type": "quantitative", "axis": null},
        "shape": {"field": "s", "type": "nominal",
          "scale": {"domain": ["VMD: mρ = 770 MeV", "Maris & Tandy", "Iachello & Wan", "Cardarelli et al.", "NLO pQCD: hep-ph/0405062", "Amendolia et al.", "JLab E93-021", "Brauel et al. (reanalyzed)", "Bebek et al. (reanalyzed)"],
            "range": ["M-3.75,0H3.75", "M-3.75,0H3.75", "M-3.75,0H3.75", "M-3.75,0H3.75", "M-3.75,0H3.75", "M-0.55,-0.55L0.55,0.55M-0.55,0.55L0.55,-0.55", "M-0.72,0A0.72,0.72,0,1,1,0.72,0A0.72,0.72,0,1,1,-0.72,0Z", "M-0.65,-0.65H0.65V0.65H-0.65Z", "M0,-0.85L0.8,0.6L-0.8,0.6Z"]},
          "legend": {"title": null, "orient": "none", "legendX": 344, "legendY": -63, "padding": 5, "fillColor": "white", "strokeColor": "black",
            "labelFont": "Liberation Serif", "labelFontSize": 14, "labelColor": "black", "labelLimit": 400, "symbolOffset": 19, "labelOffset": 35, "rowPadding": 1, "symbolSize": 256,
            "encode": {"legend": {"update": {"strokeWidth": {"value": 1.2}}},
              "symbols": {"update": {"shape": {"scale": "shape", "field": "value"}, "fill": {"scale": "fill", "field": "value"}, "strokeDash": {"scale": "strokeDash", "field": "value"}, "stroke": {"value": "black"}, "strokeWidth": {"value": 1.3}, "size": {"value": 256}, "opacity": {"value": 1}}}}}},
        "fill": {"field": "s", "type": "nominal",
          "scale": {"domain": ["VMD: mρ = 770 MeV", "Maris & Tandy", "Iachello & Wan", "Cardarelli et al.", "NLO pQCD: hep-ph/0405062", "Amendolia et al.", "JLab E93-021", "Brauel et al. (reanalyzed)", "Bebek et al. (reanalyzed)"],
            "range": ["transparent", "transparent", "transparent", "transparent", "transparent", "transparent", "black", "black", "black"]},
          "legend": {"title": null, "orient": "none", "legendX": 344, "legendY": -63, "padding": 5, "fillColor": "white", "strokeColor": "black",
            "labelFont": "Liberation Serif", "labelFontSize": 14, "labelColor": "black", "labelLimit": 400, "symbolOffset": 19, "labelOffset": 35, "rowPadding": 1, "symbolSize": 256,
            "encode": {"legend": {"update": {"strokeWidth": {"value": 1.2}}},
              "symbols": {"update": {"shape": {"scale": "shape", "field": "value"}, "fill": {"scale": "fill", "field": "value"}, "strokeDash": {"scale": "strokeDash", "field": "value"}, "stroke": {"value": "black"}, "strokeWidth": {"value": 1.3}, "size": {"value": 256}, "opacity": {"value": 1}}}}}},
        "strokeDash": {"field": "s", "type": "nominal",
          "legend": {"title": null, "orient": "none", "legendX": 344, "legendY": -63, "padding": 5, "fillColor": "white", "strokeColor": "black",
            "labelFont": "Liberation Serif", "labelFontSize": 14, "labelColor": "black", "labelLimit": 400, "symbolOffset": 19, "labelOffset": 35, "rowPadding": 1, "symbolSize": 256,
            "encode": {"legend": {"update": {"strokeWidth": {"value": 1.2}}},
              "symbols": {"update": {"shape": {"scale": "shape", "field": "value"}, "fill": {"scale": "fill", "field": "value"}, "strokeDash": {"scale": "strokeDash", "field": "value"}, "stroke": {"value": "black"}, "strokeWidth": {"value": 1.3}, "size": {"value": 256}, "opacity": {"value": 1}}}}}}
      }
    },
    {
      "data": {"name": "labels"},
      "mark": {"type": "text", "font": "Liberation Serif", "fontSize": 18, "color": "black", "align": "center", "baseline": "middle"},
      "encoding": {
        "x": {"field": "q", "type": "quantitative",
          "axis": {"orient": "top", "values": [0.5, 1, 1.5, 2.5, 3, 3.5, 4.5, 5, 5.5], "labels": false, "title": null, "tickSize": -5}},
        "y": {"field": "f", "type": "quantitative",
          "axis": {"orient": "right", "values": [0.05, 0.15, 0.25, 0.35, 0.45, 0.55], "labels": false, "title": null, "tickSize": -5}},
        "text": {"field": "t"}
      }
    }
  ]
}
